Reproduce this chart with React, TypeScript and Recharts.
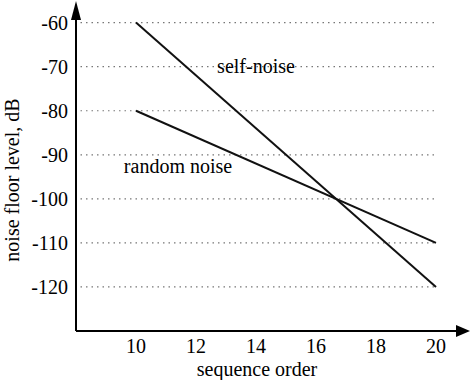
import React from 'react';
import { LineChart, Line, XAxis, YAxis, ReferenceLine, ReferenceDot, Label } from 'recharts';

const orders = [10, 20];
const selfNoise = [-60, -120];
const randomNoise = [-80, -110];
const xTicks = [10, 12, 14, 16, 18, 20];
const yTicks = [-60, -70, -80, -90, -100, -110, -120];

const serif = '"Liberation Serif", "Times New Roman", serif';

const data = orders.map((x, i) => ({ x, self: selfNoise[i], random: randomNoise[i] }));

// arrow heads at the ends of the axes
const UpArrow = (props: any) => {
  const { cx, cy } = props;
  return <path d={`M${cx} ${cy - 4} L${cx - 5} ${cy + 15} L${cx + 5} ${cy + 15} Z`} fill="#000" />;
};

const RightArrow = (props: any) => {
  const { cx, cy } = props;
  return <path d={`M${cx + 4} ${cy} L${cx - 10} ${cy - 6} L${cx - 10} ${cy + 6} Z`} fill="#000" />;
};

const TextMark = (text: string) => (props: any) => {
  const { cx, cy } = props;
  return (
    <text x={cx} y={cy} textAnchor="middle" dominantBaseline="central" fontFamily={serif} fontSize={20} fill="#000">
      {text}
    </text>
  );
};

const App: React.FC = () => {
  const tickStyle = { fontFamily: serif, fontSize: 20, fill: '#000' };
  return (
    <div style={{ position: 'absolute', left: 0, top: 0, background: '#fff' }}>
      <LineChart width={471} height={380} data={data} margin={{ top: 5, right: 5, bottom: 0, left: 0 }}>
        <XAxis
          type="number"
          dataKey="x"
          domain={[8, 21]}
          ticks={xTicks}
          tickLine={false}
          axisLine={{ stroke: '#000', strokeWidth: 2 }}
          tick={tickStyle}
          height={49}
        >
          <Label value="sequence order" position="insideBottom" offset={4} dx={-14} style={{ fontFamily: serif, fontSize: 20, fill: '#000' }} />
        </XAxis>
        <YAxis
          type="number"
          domain={[-130, -56]}
          ticks={yTicks}
          tickLine={false}
          axisLine={{ stroke: '#000', strokeWidth: 2 }}
          tick={tickStyle}
          width={76}
        >
          <Label value="noise floor level, dB" angle={-90} position="insideLeft" offset={12} dy={12} style={{ fontFamily: serif, fontSize: 20, fill: '#000', textAnchor: 'middle' }} />
        </YAxis>
        {yTicks.map((v) => (
          <ReferenceLine
            key={v}
            segment={[{ x: 8.15, y: v }, { x: 20, y: v }]}
            stroke="#777"
            strokeWidth={1.2}
            strokeDasharray="1.5 4"
          />
        ))}
        <Line type="linear" dataKey="self" stroke="#111" strokeWidth={2} dot={false} isAnimationActive={false} />
        <Line type="linear" dataKey="random" stroke="#111" strokeWidth={2} dot={false} isAnimationActive={false} />
        <ReferenceDot x={14} y={-69.8} r={0} shape={TextMark('self-noise')} />
        <ReferenceDot x={11.4} y={-92.5} r={0} shape={TextMark('random noise')} />
        <ReferenceDot x={8} y={-56} r={0} shape={UpArrow} />
        <ReferenceDot x={21} y={-130} r={0} shape={RightArrow} />
      </LineChart>
    </div>
  );
};

export default App;
